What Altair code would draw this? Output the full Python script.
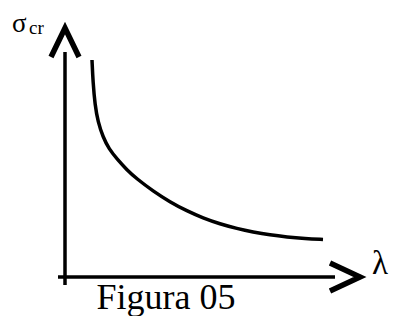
import altair as alt
import pandas as pd

# Curve values (schematic Euler buckling curve sigma_cr vs lambda), in chart units
LAMBDA_CURVE = [27, 28, 30, 33, 38, 44, 52, 62, 72, 88, 105, 122, 138, 155, 172, 188, 205, 222, 240, 258]
SIGMA_CURVE = [217, 195, 172, 155, 140, 128, 118, 107, 98, 86, 75, 66, 59, 53, 48.5, 45, 42, 40, 38.5, 37.5]

# Axis lines
AXIS_SEG = ["y", "x"]
AXIS_L1 = [0, -7]
AXIS_L2 = [0, 270]
AXIS_S1 = [-8, 0]
AXIS_S2 = [225, 0]

# Arrow heads (polylines)
ARROW_SEG = ["y", "y", "y", "x", "x", "x"]
ARROW_ORD = [0, 1, 2, 0, 1, 2]
ARROW_L = [-14, 0, 14, 265, 295, 265]
ARROW_S = [220, 249, 220, 14, 0, -14]

# Labels
LABEL_TEXT = ["σ", "cr", "λ", "Figura 05"]
LABEL_L = [-53, -36, 307, 101]
LABEL_S = [245, 243, 3, -32]
LABEL_SIZE = [27, 19, 33, 36]
LABEL_ALIGN = ["left", "left", "left", "center"]

xs = alt.Scale(domain=[-57, 324], nice=False, zero=False)
ys = alt.Scale(domain=[-39, 269], nice=False, zero=False)

curve_df = pd.DataFrame({"l": LAMBDA_CURVE, "s": SIGMA_CURVE, "o": range(len(LAMBDA_CURVE))})
axis_df = pd.DataFrame({"seg": AXIS_SEG, "l1": AXIS_L1, "l2": AXIS_L2, "s1": AXIS_S1, "s2": AXIS_S2})
arrow_df = pd.DataFrame({"seg": ARROW_SEG, "o": ARROW_ORD, "l": ARROW_L, "s": ARROW_S})
label_df = pd.DataFrame({"t": LABEL_TEXT, "l": LABEL_L, "s": LABEL_S})

curve = alt.Chart(curve_df).mark_line(color="black", strokeWidth=3.5, interpolate="basis").encode(
    x=alt.X("l:Q", scale=xs, axis=None),
    y=alt.Y("s:Q", scale=ys, axis=None),
    order="o:Q",
)

axes = alt.Chart(axis_df).mark_rule(color="black", strokeWidth=3.5).encode(
    x=alt.X("l1:Q", scale=xs, axis=None),
    x2="l2:Q",
    y=alt.Y("s1:Q", scale=ys, axis=None),
    y2="s2:Q",
)

arrows = alt.Chart(arrow_df).mark_line(color="black", strokeWidth=5.5, strokeJoin="miter", strokeCap="butt").encode(
    x=alt.X("l:Q", scale=xs, axis=None),
    y=alt.Y("s:Q", scale=ys, axis=None),
    detail="seg:N",
    order="o:Q",
)

label_layers = []
for i in range(len(LABEL_TEXT)):
    sub = label_df.iloc[[i]]
    label_layers.append(
        alt.Chart(sub).mark_text(
            font="Liberation Serif",
            fontSize=LABEL_SIZE[i],
            align=LABEL_ALIGN[i],
            baseline="alphabetic",
            color="black",
        ).encode(
            x=alt.X("l:Q", scale=xs, axis=None),
            y=alt.Y("s:Q", scale=ys, axis=None),
            text="t:N",
        )
    )

chart = alt.layer(axes, arrows, curve, *label_layers).properties(
    width=381, height=308, padding=0, autosize=alt.AutoSizeParams(type="none"),
    background="white",
).configure_view(stroke=None)

chart.save("out.html", embed_options={"renderer": "svg", "actions": False})
